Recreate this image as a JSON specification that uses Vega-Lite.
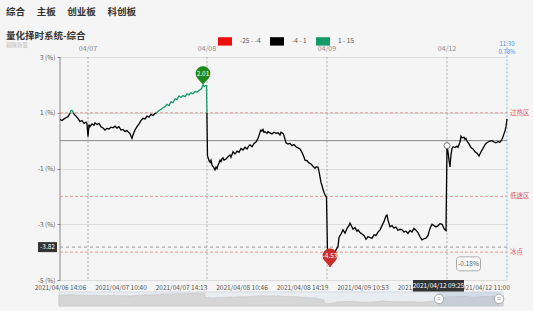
{
  "$schema": "https://vega.github.io/schema/vega-lite/v6.json",
  "width": 447,
  "height": 250,
  "autosize": "none",
  "padding": {"left": 60, "top": 57, "right": 26, "bottom": 4},
  "background": "#f5f5f5",
  "config": {"font": "Noto Sans CJK SC", "view": {"stroke": null}},
  "title": {
    "text": ["  综合　 主板　 创业板　 科创板", "量化择时系统-综合"],
    "subtitle": "剔除新股",
    "anchor": "start",
    "frame": "group",
    "dx": -54,
    "dy": 22,
    "offset": 8,
    "fontSize": 9.5,
    "fontWeight": "bold",
    "color": "#333333",
    "lineHeight": 24,
    "subtitleFontSize": 5.5,
    "subtitleColor": "#bbbbbb",
    "subtitlePadding": 2
  },
  "datasets": {
    "pts": [
      {"i":0,"v":0.76},{"i":4,"v":0.72},{"i":8,"v":0.78},{"i":12,"v":0.82},{"i":16,"v":0.86},{"i":20,"v":0.98},{"i":22,"v":1.07},{"i":24,"v":1.09},{"i":26,"v":1.04},{"i":28,"v":0.95},{"i":32,"v":0.88},{"i":36,"v":0.8},{"i":40,"v":0.68},{"i":44,"v":0.72},{"i":48,"v":0.62},{"i":52,"v":0.66},{"i":54,"v":0.6},
      {"i":56,"v":0.14},{"i":58,"v":0.58},{"i":60,"v":0.5},{"i":64,"v":0.6},{"i":68,"v":0.55},{"i":70,"v":0.64},{"i":74,"v":0.58},{"i":78,"v":0.62},{"i":82,"v":0.5},{"i":86,"v":0.45},{"i":90,"v":0.38},{"i":94,"v":0.44},{"i":98,"v":0.42},{"i":102,"v":0.48},{"i":106,"v":0.46},{"i":110,"v":0.52},{"i":114,"v":0.45},{"i":118,"v":0.5},{"i":122,"v":0.38},{"i":126,"v":0.4},{"i":130,"v":0.33},{"i":134,"v":0.36},{"i":136,"v":0.32},{"i":140,"v":0.25},{"i":144,"v":0.08},{"i":146,"v":0.2},{"i":150,"v":0.38},{"i":154,"v":0.5},{"i":158,"v":0.6},{"i":162,"v":0.72},{"i":166,"v":0.8},{"i":170,"v":0.78},{"i":174,"v":0.88},{"i":178,"v":0.84},{"i":182,"v":0.94},{"i":186,"v":0.9},{"i":190,"v":0.98},{"i":194,"v":1.01},{"i":198,"v":1.08},{"i":202,"v":1.12},{"i":206,"v":1.18},{"i":210,"v":1.22},{"i":214,"v":1.3},{"i":218,"v":1.26},{"i":222,"v":1.4},{"i":226,"v":1.36},{"i":230,"v":1.5},{"i":234,"v":1.48},{"i":238,"v":1.6},{"i":242,"v":1.55},{"i":246,"v":1.62},{"i":250,"v":1.58},{"i":254,"v":1.68},{"i":258,"v":1.64},{"i":262,"v":1.72},{"i":266,"v":1.68},{"i":270,"v":1.76},{"i":274,"v":1.74},{"i":278,"v":1.8},{"i":282,"v":1.85},{"i":284,"v":1.9},{"i":286,"v":2.01},{"i":288,"v":1.94},{"i":290,"v":1.96},{"i":292,"v":1.98},{"i":293,"v":1.97},
      {"i":295,"v":-0.55},{"i":296,"v":-0.6},{"i":298,"v":-0.72},{"i":300,"v":-0.78},{"i":302,"v":-0.7},{"i":304,"v":-0.88},{"i":306,"v":-0.92},{"i":308,"v":-0.98},{"i":310,"v":-1.05},{"i":312,"v":-0.95},{"i":314,"v":-1.0},{"i":316,"v":-0.88},{"i":318,"v":-0.8},{"i":320,"v":-0.7},{"i":322,"v":-0.75},{"i":324,"v":-0.65},{"i":326,"v":-0.62},{"i":328,"v":-0.7},{"i":332,"v":-0.66},{"i":336,"v":-0.58},{"i":340,"v":-0.52},{"i":342,"v":-0.6},{"i":346,"v":-0.4},{"i":350,"v":-0.48},{"i":354,"v":-0.38},{"i":358,"v":-0.42},{"i":362,"v":-0.28},{"i":366,"v":-0.34},{"i":370,"v":-0.24},{"i":374,"v":-0.3},{"i":378,"v":-0.18},{"i":380,"v":-0.15},{"i":384,"v":-0.22},{"i":388,"v":-0.1},{"i":392,"v":-0.05},{"i":396,"v":0.08},{"i":398,"v":0.18},{"i":400,"v":0.3},{"i":402,"v":0.38},{"i":404,"v":0.34},{"i":406,"v":0.4},{"i":408,"v":0.3},{"i":410,"v":0.32},{"i":414,"v":0.26},{"i":416,"v":0.32},{"i":420,"v":0.28},{"i":424,"v":0.24},{"i":428,"v":0.3},{"i":432,"v":0.26},{"i":436,"v":0.28},{"i":440,"v":0.2},{"i":442,"v":0.3},{"i":446,"v":0.26},{"i":448,"v":0.18},{"i":450,"v":0.05},{"i":452,"v":-0.08},{"i":456,"v":-0.12},{"i":460,"v":-0.1},{"i":464,"v":-0.18},{"i":468,"v":-0.14},{"i":472,"v":-0.22},{"i":476,"v":-0.26},{"i":480,"v":-0.3},{"i":484,"v":-0.42},{"i":488,"v":-0.6},{"i":490,"v":-0.7},{"i":494,"v":-0.72},{"i":498,"v":-0.8},{"i":502,"v":-0.84},{"i":506,"v":-0.92},{"i":510,"v":-0.99},{"i":512,"v":-0.94},{"i":516,"v":-0.95},{"i":518,"v":-1.1},{"i":520,"v":-1.3},{"i":522,"v":-1.5},{"i":524,"v":-1.62},{"i":526,"v":-1.75},{"i":528,"v":-1.85},{"i":530,"v":-1.95},{"i":532,"v":-2.0},{"i":533,"v":-2.05},
      {"i":535,"v":-4.0},{"i":537,"v":-4.25},{"i":540,"v":-4.53},{"i":544,"v":-4.3},{"i":548,"v":-4.1},{"i":552,"v":-3.92},{"i":556,"v":-3.8},{"i":558,"v":-3.47},{"i":562,"v":-3.35},{"i":566,"v":-3.2},{"i":570,"v":-3.32},{"i":574,"v":-3.15},{"i":578,"v":-3.05},{"i":580,"v":-2.96},{"i":584,"v":-3.1},{"i":586,"v":-3.18},{"i":590,"v":-3.12},{"i":594,"v":-3.25},{"i":596,"v":-3.2},{"i":600,"v":-3.3},{"i":604,"v":-3.35},{"i":608,"v":-3.4},{"i":612,"v":-3.54},{"i":616,"v":-3.44},{"i":620,"v":-3.48},{"i":624,"v":-3.5},{"i":628,"v":-3.38},{"i":632,"v":-3.4},{"i":636,"v":-3.28},{"i":640,"v":-3.2},{"i":644,"v":-3.05},{"i":648,"v":-2.9},{"i":652,"v":-2.7},{"i":654,"v":-2.67},{"i":656,"v":-2.85},{"i":660,"v":-3.09},{"i":664,"v":-3.05},{"i":668,"v":-3.14},{"i":672,"v":-3.1},{"i":676,"v":-3.22},{"i":680,"v":-3.18},{"i":684,"v":-3.2},{"i":688,"v":-3.28},{"i":692,"v":-3.25},{"i":696,"v":-3.33},{"i":700,"v":-3.22},{"i":704,"v":-3.28},{"i":708,"v":-3.15},{"i":712,"v":-3.22},{"i":716,"v":-3.3},{"i":720,"v":-3.45},{"i":724,"v":-3.56},{"i":728,"v":-3.52},{"i":732,"v":-3.5},{"i":736,"v":-3.4},{"i":740,"v":-3.15},{"i":744,"v":-3.0},{"i":748,"v":-3.05},{"i":752,"v":-3.1},{"i":756,"v":-3.05},{"i":760,"v":-2.98},{"i":764,"v":-3.0},{"i":768,"v":-3.15},{"i":770,"v":-3.2},{"i":772,"v":-3.23},
      {"i":774,"v":-0.18},{"i":776,"v":-0.4},{"i":778,"v":-0.7},{"i":780,"v":-0.94},{"i":782,"v":-0.5},{"i":784,"v":-0.28},{"i":786,"v":-0.22},{"i":790,"v":-0.25},{"i":794,"v":-0.2},{"i":796,"v":-0.24},{"i":800,"v":-0.05},{"i":802,"v":0.16},{"i":804,"v":0.1},{"i":808,"v":0.12},{"i":810,"v":0.05},{"i":812,"v":0.08},{"i":814,"v":-0.02},{"i":818,"v":-0.12},{"i":822,"v":-0.25},{"i":826,"v":-0.3},{"i":830,"v":-0.4},{"i":834,"v":-0.45},{"i":838,"v":-0.55},{"i":842,"v":-0.4},{"i":846,"v":-0.28},{"i":850,"v":-0.15},{"i":852,"v":-0.1},{"i":856,"v":-0.05},{"i":860,"v":-0.02},{"i":864,"v":0.0},{"i":868,"v":-0.05},{"i":872,"v":-0.08},{"i":876,"v":-0.04},{"i":880,"v":-0.06},{"i":884,"v":0.05},{"i":886,"v":0.14},{"i":890,"v":0.35},{"i":892,"v":0.5},{"i":894,"v":0.78}
    ]
  },
  "layer": [
    {
      "layer": [
        {
          "data": {"values": [{}]},
          "mark": {"type": "rule", "color": "#888888", "strokeWidth": 1},
          "encoding": {
            "x": {"datum": 0, "type": "quantitative", "scale": {"domain": [0, 894], "nice": false, "zero": false}},
            "y": {"datum": -5, "type": "quantitative", "scale": {"domain": [-5.9686, 3], "nice": false, "zero": false}},
            "y2": {"datum": 3}
          }
        },
        {
          "data": {"values": [{}]},
          "mark": {"type": "rule", "color": "#888888", "strokeWidth": 1},
          "encoding": {
            "x": {"datum": 0, "type": "quantitative", "scale": {"domain": [0, 894], "nice": false, "zero": false}},
            "x2": {"datum": 894},
            "y": {"datum": 0, "type": "quantitative", "scale": {"domain": [-5.9686, 3], "nice": false, "zero": false}}
          }
        },
        {
          "data": {"values": [{"lvl": 1, "name": "过热区"}, {"lvl": -2, "name": "低迷区"}, {"lvl": -4, "name": "冰点"}]},
          "layer": [
            {
              "mark": {"type": "rule", "color": "#e79a9a", "strokeDash": [3, 2], "strokeWidth": 1},
              "encoding": {
                "x": {"datum": 0, "type": "quantitative", "scale": {"domain": [0, 894], "nice": false, "zero": false}},
                "x2": {"datum": 894},
                "y": {"field": "lvl", "type": "quantitative", "scale": {"domain": [-5.9686, 3], "nice": false, "zero": false}}
              }
            },
            {
              "mark": {"type": "text", "align": "left", "dx": 3, "fontSize": 6.5, "color": "#e05a5a"},
              "encoding": {
                "x": {"datum": 894, "type": "quantitative", "scale": {"domain": [0, 894], "nice": false, "zero": false}},
                "y": {"field": "lvl", "type": "quantitative", "scale": {"domain": [-5.9686, 3], "nice": false, "zero": false}},
                "text": {"field": "name"}
              }
            }
          ]
        },
        {
          "data": {"values": [{"d": 56, "lab": "04/07"}, {"d": 294, "lab": "04/08"}, {"d": 534, "lab": "04/09"}, {"d": 774, "lab": "04/12"}]},
          "layer": [
            {
              "mark": {"type": "rule", "color": "#aaaaaa", "strokeDash": [2, 2], "strokeWidth": 1},
              "encoding": {
                "x": {"field": "d", "type": "quantitative", "scale": {"domain": [0, 894], "nice": false, "zero": false}},
                "y": {"datum": 3, "type": "quantitative", "scale": {"domain": [-5.9686, 3], "nice": false, "zero": false}},
                "y2": {"datum": -5}
              }
            },
            {
              "mark": {"type": "text", "dy": -8, "fontSize": 7, "color": "#888888"},
              "encoding": {
                "x": {"field": "d", "type": "quantitative", "scale": {"domain": [0, 894], "nice": false, "zero": false}},
                "y": {"datum": 3, "type": "quantitative", "scale": {"domain": [-5.9686, 3], "nice": false, "zero": false}},
                "text": {"field": "lab"}
              }
            }
          ]
        },
        {
          "data": {"values": [{}]},
          "mark": {"type": "rule", "color": "#7fb0e8", "strokeDash": [2, 2], "strokeWidth": 1},
          "encoding": {
            "x": {"datum": 894, "type": "quantitative", "scale": {"domain": [0, 894], "nice": false, "zero": false}},
            "y": {"datum": 3.35, "type": "quantitative", "scale": {"domain": [-5.9686, 3], "nice": false, "zero": false}},
            "y2": {"datum": -5}
          }
        },
        {
          "data": {"values": [{"t": "11:30", "o": 0}, {"t": "0.78%", "o": 1}]},
          "mark": {"type": "text", "fontSize": 6, "color": "#4a90e2"},
          "encoding": {
            "x": {"datum": 894, "type": "quantitative", "scale": {"domain": [0, 894], "nice": false, "zero": false}},
            "y": {"datum": 3, "type": "quantitative", "scale": {"domain": [-5.9686, 3], "nice": false, "zero": false}},
            "yOffset": {"field": "o", "type": "quantitative", "scale": {"domain": [0, 1], "range": [-13, -5]}},
            "text": {"field": "t"}
          }
        },
        {
          "data": {"values": [{}]},
          "mark": {"type": "rule", "color": "#999999", "strokeDash": [3, 3], "strokeWidth": 1},
          "encoding": {
            "x": {"datum": 0, "type": "quantitative", "scale": {"domain": [0, 894], "nice": false, "zero": false}},
            "x2": {"datum": 894},
            "y": {"datum": -3.82, "type": "quantitative", "scale": {"domain": [-5.9686, 3], "nice": false, "zero": false}}
          }
        },
        {
          "data": {"name": "pts"},
          "mark": {
            "type": "line",
            "strokeWidth": 1.3,
            "stroke": {
              "gradient": "linear", "x1": 0, "y1": 0, "x2": 0, "y2": 1,
              "stops": [
                {"offset": 0, "color": "#129b68"},
                {"offset": 0.15443, "color": "#129b68"},
                {"offset": 0.15443, "color": "#000000"},
                {"offset": 0.91896, "color": "#000000"},
                {"offset": 0.91896, "color": "#e60012"},
                {"offset": 1, "color": "#e60012"}
              ]
            }
          },
          "encoding": {
            "x": {
              "field": "i", "type": "quantitative",
              "scale": {"domain": [0, 894], "nice": false, "zero": false},
              "axis": {
                "orient": "bottom", "offset": -26, "title": null,
                "values": [0, 121, 242, 363, 484, 605, 726, 847],
                "labelExpr": "['2021/04/06 14:06','2021/04/07 10:40','2021/04/07 14:13','2021/04/08 10:46','2021/04/08 14:19','2021/04/09 10:53','2021/04/09 14:26','2021/04/12 11:00'][round(datum.value/121)]",
                "domain": false, "ticks": false, "grid": false,
                "labelFontSize": 6.5, "labelColor": "#555555", "labelPadding": 3,
                "labelOverlap": false, "labelBound": false, "labelFlush": false
              }
            },
            "y": {
              "field": "v", "type": "quantitative",
              "scale": {"domain": [-5.9686, 3], "nice": false, "zero": false},
              "axis": {
                "title": null, "values": [-5, -4, -3, -2, -1, 0, 1, 2, 3],
                "labelExpr": "datum.value + ' (%)'",
                "domain": false, "ticks": true, "tickSize": 3, "tickColor": "#888888",
                "grid": true, "gridColor": "#dddddd",
                "labelFontSize": 6.5, "labelColor": "#555555", "labelPadding": 2,
                "labelOverlap": false, "labelBound": false, "labelFlush": false
              }
            }
          }
        },
        {
          "data": {"values": [{}]},
          "mark": {"type": "point", "shape": "circle", "filled": true, "fill": "#ffffff", "stroke": "#777777", "strokeWidth": 1, "size": 36, "opacity": 1},
          "encoding": {
            "x": {"datum": 774, "type": "quantitative", "scale": {"domain": [0, 894], "nice": false, "zero": false}},
            "y": {"datum": -0.18, "type": "quantitative", "scale": {"domain": [-5.9686, 3], "nice": false, "zero": false}}
          }
        },
        {
          "data": {"values": [{"i": 286, "v": 2.01, "t": "2.01"}]},
          "layer": [
            {
              "mark": {"type": "point", "shape": "M0,1L-0.55,0.38A0.8,0.8 0 1,1 0.55,0.38Z", "filled": true, "fill": "#1d8a1d", "strokeWidth": 0, "size": 340, "yOffset": -9.2, "opacity": 1},
              "encoding": {
                "x": {"field": "i", "type": "quantitative", "scale": {"domain": [0, 894], "nice": false, "zero": false}},
                "y": {"field": "v", "type": "quantitative", "scale": {"domain": [-5.9686, 3], "nice": false, "zero": false}}
              }
            },
            {
              "mark": {"type": "text", "dy": -11, "fontSize": 6.5, "color": "#ffffff"},
              "encoding": {
                "x": {"field": "i", "type": "quantitative", "scale": {"domain": [0, 894], "nice": false, "zero": false}},
                "y": {"field": "v", "type": "quantitative", "scale": {"domain": [-5.9686, 3], "nice": false, "zero": false}},
                "text": {"field": "t"}
              }
            }
          ]
        },
        {
          "data": {"values": [{"i": 540, "v": -4.53, "t": "-4.53"}]},
          "layer": [
            {
              "mark": {"type": "point", "shape": "M0,1L-0.55,0.38A0.8,0.8 0 1,1 0.55,0.38Z", "filled": true, "fill": "#c9302c", "strokeWidth": 0, "size": 340, "yOffset": -9.2, "opacity": 1},
              "encoding": {
                "x": {"field": "i", "type": "quantitative", "scale": {"domain": [0, 894], "nice": false, "zero": false}},
                "y": {"field": "v", "type": "quantitative", "scale": {"domain": [-5.9686, 3], "nice": false, "zero": false}}
              }
            },
            {
              "mark": {"type": "text", "dy": -11, "fontSize": 6.5, "color": "#ffffff"},
              "encoding": {
                "x": {"field": "i", "type": "quantitative", "scale": {"domain": [0, 894], "nice": false, "zero": false}},
                "y": {"field": "v", "type": "quantitative", "scale": {"domain": [-5.9686, 3], "nice": false, "zero": false}},
                "text": {"field": "t"}
              }
            }
          ]
        },
        {
          "data": {"values": [{"t": "-3.82"}]},
          "layer": [
            {
              "mark": {"type": "rect", "fill": "#333333"},
              "encoding": {
                "x": {"datum": -44, "type": "quantitative", "scale": {"domain": [0, 894], "nice": false, "zero": false}},
                "x2": {"datum": -6},
                "y": {"datum": -3.64, "type": "quantitative", "scale": {"domain": [-5.9686, 3], "nice": false, "zero": false}},
                "y2": {"datum": -4.0}
              }
            },
            {
              "mark": {"type": "text", "fontSize": 6.5, "color": "#ffffff"},
              "encoding": {
                "x": {"datum": -25, "type": "quantitative", "scale": {"domain": [0, 894], "nice": false, "zero": false}},
                "y": {"datum": -3.82, "type": "quantitative", "scale": {"domain": [-5.9686, 3], "nice": false, "zero": false}},
                "text": {"field": "t"}
              }
            }
          ]
        },
        {
          "data": {"values": [{"t": "2021/04/12 09:25"}]},
          "layer": [
            {
              "mark": {"type": "rect", "fill": "#333333"},
              "encoding": {
                "x": {"datum": 706, "type": "quantitative", "scale": {"domain": [0, 894], "nice": false, "zero": false}},
                "x2": {"datum": 808},
                "y": {"datum": -5.0, "type": "quantitative", "scale": {"domain": [-5.9686, 3], "nice": false, "zero": false}},
                "y2": {"datum": -5.43}
              }
            },
            {
              "mark": {"type": "text", "fontSize": 6.5, "color": "#ffffff"},
              "encoding": {
                "x": {"datum": 757, "type": "quantitative", "scale": {"domain": [0, 894], "nice": false, "zero": false}},
                "y": {"datum": -5.215, "type": "quantitative", "scale": {"domain": [-5.9686, 3], "nice": false, "zero": false}},
                "text": {"field": "t"}
              }
            }
          ]
        },
        {
          "data": {"values": [{"t": "-0.18%"}]},
          "layer": [
            {
              "mark": {"type": "rect", "fill": "#ffffff", "stroke": "#aaaaaa", "strokeWidth": 1, "cornerRadius": 3},
              "encoding": {
                "x": {"datum": 793, "type": "quantitative", "scale": {"domain": [0, 894], "nice": false, "zero": false}},
                "x2": {"datum": 841},
                "y": {"datum": -4.17, "type": "quantitative", "scale": {"domain": [-5.9686, 3], "nice": false, "zero": false}},
                "y2": {"datum": -4.67}
              }
            },
            {
              "mark": {"type": "text", "fontSize": 6.5, "color": "#555555"},
              "encoding": {
                "x": {"datum": 817, "type": "quantitative", "scale": {"domain": [0, 894], "nice": false, "zero": false}},
                "y": {"datum": -4.42, "type": "quantitative", "scale": {"domain": [-5.9686, 3], "nice": false, "zero": false}},
                "text": {"field": "t"}
              }
            }
          ]
        },
        {
          "data": {"values": [{"band": "-25 - -4"}, {"band": "-4 - 1"}, {"band": "1 - 15"}]},
          "mark": {"type": "point", "filled": true, "size": 0},
          "encoding": {
            "color": {
              "field": "band", "type": "nominal",
              "scale": {"domain": ["-25 - -4", "-4 - 1", "1 - 15"], "range": ["#f20d0d", "#000000", "#129b68"]},
              "legend": {
                "orient": "none", "legendX": 158, "legendY": -23, "direction": "horizontal",
                "title": null, "symbolType": "M-1,-0.6L1,-0.6L1,0.6L-1,0.6Z", "symbolSize": 196,
                "symbolStrokeWidth": 0, "symbolOpacity": 1,
                "labelFontSize": 6.5, "labelColor": "#555555", "labelOffset": 8,
                "columnPadding": 9, "padding": 0
              }
            }
          }
        }
      ]
    },
    {
      "layer": [
        {
          "data": {"values": [{}]},
          "mark": {"type": "rect", "fill": "#e9ecf1", "stroke": "#d5dae1", "strokeWidth": 1},
          "encoding": {
            "x": {"datum": 0, "type": "quantitative", "scale": {"domain": [0, 894], "range": [-1, 443], "nice": false, "zero": false}, "axis": null},
            "x2": {"datum": 894},
            "y": {"datum": 2.6, "type": "quantitative", "scale": {"domain": [-6.33, 142.31], "nice": false, "zero": false}, "axis": null},
            "y2": {"datum": -5.72}
          }
        },
        {
          "data": {"name": "pts"},
          "mark": {"type": "area", "fill": "#d6d6d6", "stroke": "#c2c2c2", "strokeWidth": 0.6},
          "encoding": {
            "x": {"field": "i", "type": "quantitative", "scale": {"domain": [0, 894], "range": [-1, 443], "nice": false, "zero": false}, "axis": null},
            "y": {"field": "v", "type": "quantitative", "scale": {"domain": [-6.33, 142.31], "nice": false, "zero": false}, "axis": null},
            "y2": {"datum": -5.72}
          }
        },
        {
          "data": {"values": [{}]},
          "mark": {"type": "rect", "fill": "#a9bcd8", "opacity": 0.35},
          "encoding": {
            "x": {"datum": 765, "type": "quantitative", "scale": {"domain": [0, 894], "range": [-1, 443], "nice": false, "zero": false}, "axis": null},
            "x2": {"datum": 886},
            "y": {"datum": 2.6, "type": "quantitative", "scale": {"domain": [-6.33, 142.31], "nice": false, "zero": false}, "axis": null},
            "y2": {"datum": -5.72}
          }
        },
        {
          "data": {"values": [{"h": 765}, {"h": 886}]},
          "layer": [
            {
              "mark": {"type": "point", "shape": "circle", "filled": true, "fill": "#ffffff", "stroke": "#aaaaaa", "strokeWidth": 1, "size": 90, "opacity": 1},
              "encoding": {
                "x": {"field": "h", "type": "quantitative", "scale": {"domain": [0, 894], "range": [-1, 443], "nice": false, "zero": false}, "axis": null},
                "y": {"datum": -1.56, "type": "quantitative", "scale": {"domain": [-6.33, 142.31], "nice": false, "zero": false}, "axis": null}
              }
            },
            {
              "mark": {"type": "text", "fontSize": 7, "color": "#999999", "text": "="},
              "encoding": {
                "x": {"field": "h", "type": "quantitative", "scale": {"domain": [0, 894], "range": [-1, 443], "nice": false, "zero": false}, "axis": null},
                "y": {"datum": -1.56, "type": "quantitative", "scale": {"domain": [-6.33, 142.31], "nice": false, "zero": false}, "axis": null}
              }
            }
          ]
        }
      ]
    }
  ],
  "resolve": {"scale": {"x": "independent", "y": "independent"}}
}
